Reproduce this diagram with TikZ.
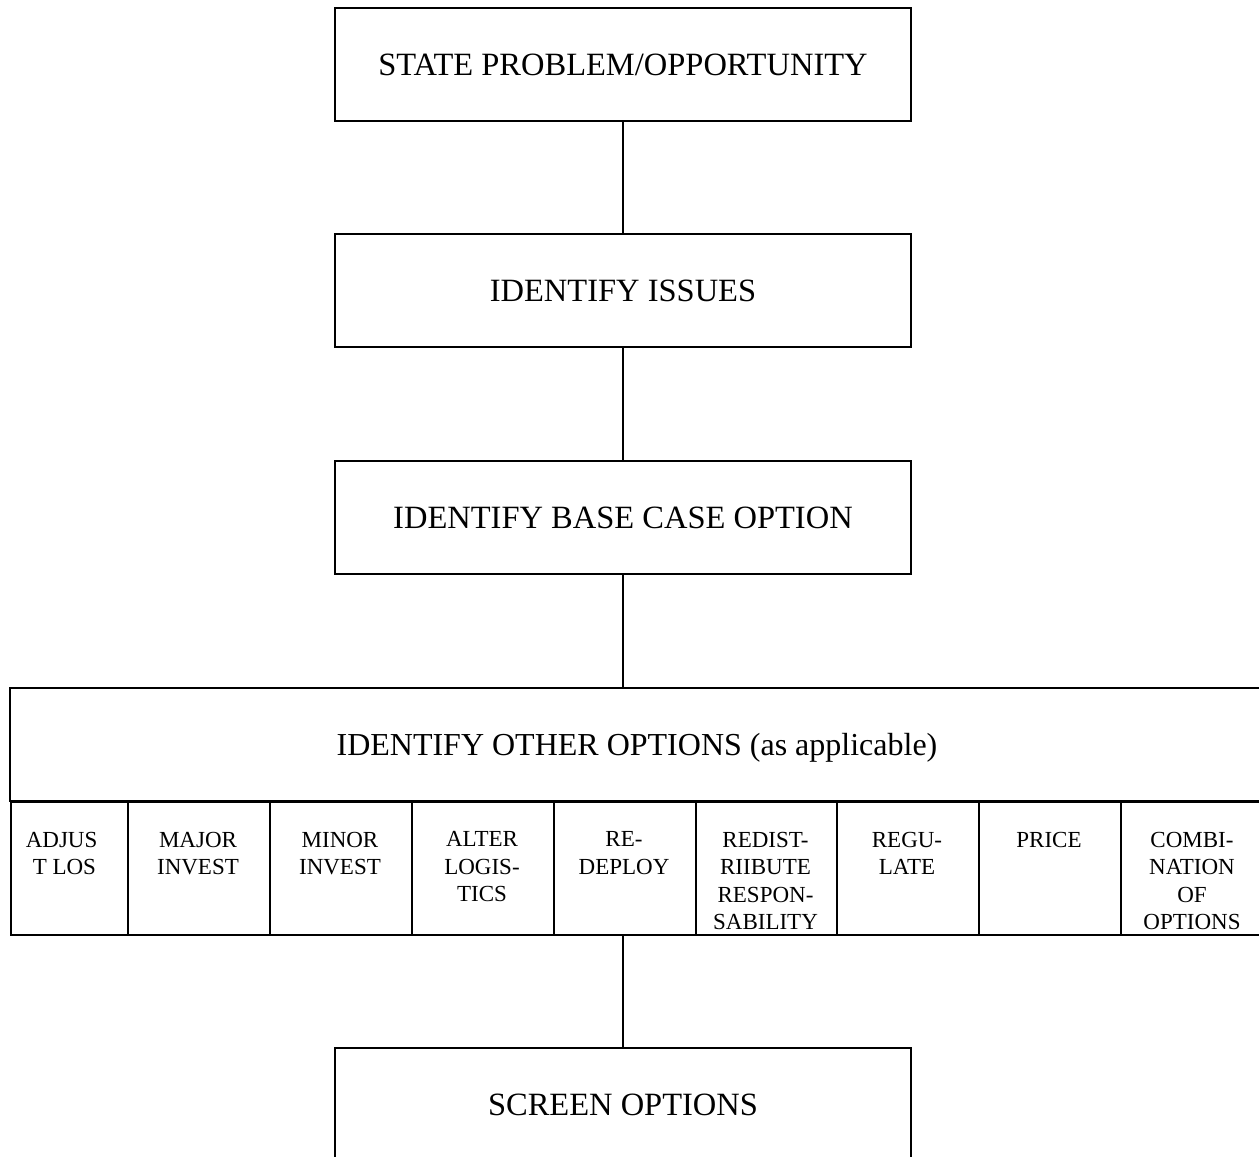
\documentclass[tikz,border=0pt]{standalone}
\usepackage{fontspec}
\setmainfont{Liberation Serif}
\begin{document}
\begin{tikzpicture}[x=1pt,y=-1pt, line width=1.6pt,
  stagebox/.style={draw, rectangle, minimum width=576pt, minimum height=113pt, inner sep=0pt,
    font=\fontsize{32.5}{38}\selectfont, text height=21.5pt, text depth=0pt},
  titlebox/.style={draw, rectangle, minimum width=1254pt, minimum height=113pt, inner sep=0pt,
    font=\fontsize{32}{38}\selectfont, text height=21.2pt, text depth=0pt},
  cellbox/.style={draw, rectangle, anchor=north west, minimum height=133pt, inner sep=0pt},
  celltext/.style={font=\fontsize{23}{27.5}\selectfont, align=center, inner sep=0pt, anchor=north},
  link/.style={line width=1.6pt}]
\useasboundingbox (0,0) rectangle (1259,1157);

\node[stagebox] (s1) at (623,64.5) {STATE PROBLEM/OPPORTUNITY};
\node[stagebox] (s2) at (623,290.5) {IDENTIFY ISSUES};
\node[stagebox] (s3) at (623,517.5) {IDENTIFY BASE CASE OPTION};
\node[titlebox] (other) at (637,744.5) {IDENTIFY OTHER OPTIONS (as applicable)};
\node[stagebox] (s5) at (623,1104.5) {SCREEN OPTIONS};

% option cells
\node[cellbox, minimum width=117pt] (c1) at (10,801) {};
\node[cellbox, minimum width=142pt] (c2) at (127,801) {};
\node[cellbox, minimum width=142pt] (c3) at (269,801) {};
\node[cellbox, minimum width=142pt] (c4) at (411,801) {};
\node[cellbox, minimum width=142pt] (c5) at (553,801) {};
\node[cellbox, minimum width=141pt] (c6) at (695,801) {};
\node[cellbox, minimum width=142pt] (c7) at (836,801) {};
\node[cellbox, minimum width=142pt] (c8) at (978,801) {};
\node[cellbox, minimum width=144pt] (c9) at (1120,801) {};

\node[celltext, align=left, anchor=north west] (t1) at (25,831) {ADJUS\\\hspace*{7pt}T LOS};
\node[celltext] (t2) at (198,831) {MAJOR\\INVEST};
\node[celltext] (t3) at (340,831) {MINOR\\INVEST};
\node[celltext] (t4) at (482,831) {ALTER\\LOGIS-\\TICS};
\node[celltext] (t5) at (624,831) {RE-\\DEPLOY};
\node[celltext] (t6) at (765.5,831) {REDIST-\\RIIBUTE\\RESPON-\\SABILITY};
\node[celltext] (t7) at (907,831) {REGU-\\LATE};
\node[celltext] (t8) at (1049,831) {PRICE};
\node[celltext] (t9) at (1192,831) {COMBI-\\NATION\\OF\\OPTIONS};

% connectors
\draw[link] (s1.south) -- (s2.north);
\draw[link] (s2.south) -- (s3.north);
\draw[link] (s3.south) -- (s3.south |- other.north);
\draw[link] (s5.north |- c5.south) -- (s5.north);
\end{tikzpicture}
\end{document}
